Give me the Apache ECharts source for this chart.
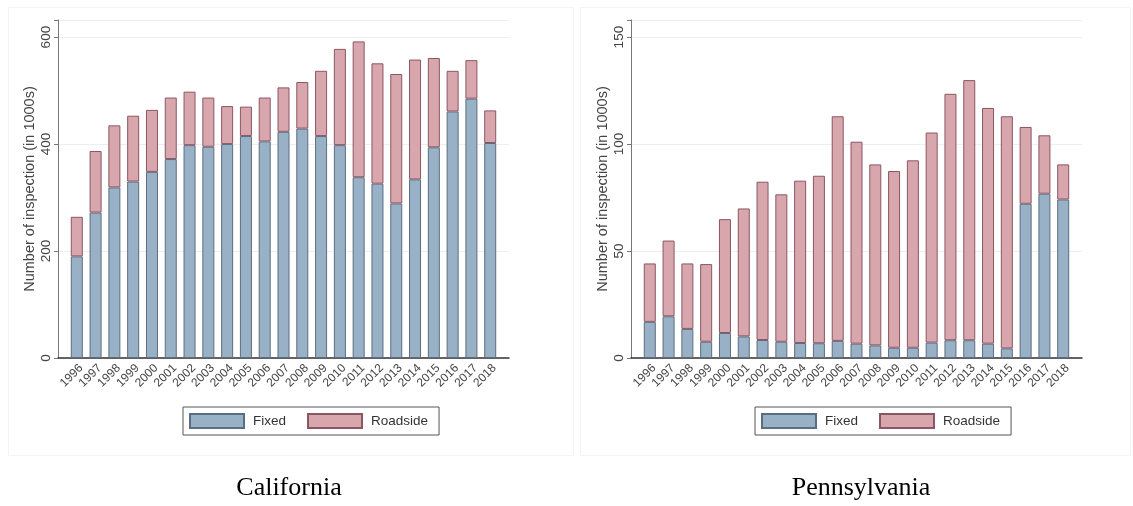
<!DOCTYPE html>
<html>
<head>
<meta charset="utf-8">
<script src="https://cdn.jsdelivr.net/npm/echarts@6/dist/echarts.min.js"></script>
<style>
html,body{margin:0;padding:0;background:#fff;}
#chart{width:1133px;height:506px;}
</style>
</head>
<body>
<div id="chart"></div>
<script>
// ---- data ----
const years = ['1996','1997','1998','1999','2000','2001','2002','2003','2004','2005','2006','2007','2008','2009','2010','2011','2012','2013','2014','2015','2016','2017','2018'];
const caFixed    = [190,272,319,330,348,372,398,395,400,415,405,423,429,415,398,338,326,289,334,394,461,485,402];
const caRoadside = [74,115,116,123,116,115,100,92,71,55,82,83,87,122,180,254,225,242,224,167,76,72,61];
const paFixed    = [16.9,19.5,13.6,7.6,11.7,10.1,8.4,7.6,7.0,6.9,8.0,6.7,5.9,4.8,4.8,7.2,8.3,8.3,6.7,4.5,72.1,76.8,74.1];
const paRoadside = [27.3,35.4,30.6,36.3,53.2,59.8,74.0,68.9,75.9,78.3,105.0,94.4,84.6,82.6,87.6,98.2,115.2,121.6,110.2,108.5,35.9,27.3,16.4];
const caTicks = [0,200,400,600];
const paTicks = [0,50,100,150];
const seriesNames = ['Fixed','Roadside'];
const panelTitles = ['California','Pennsylvania'];

// empty slot at each end of the category axis leaves the outer margin seen in the reference
const cats = [''].concat(years, ['']);
const padded = (vals) => [null].concat(vals, [null]);

const fixedStyle = {color:'#99b1c7', borderColor:'#5b6d80', borderWidth:1};
const roadStyle  = {color:'#d8a7ae', borderColor:'#8d5561', borderWidth:1};

function xAxisCfg(idx){
  return {
    type:'category', gridIndex:idx, data:cats, boundaryGap:false,
    axisLine:{show:true, onZero:false, lineStyle:{color:'#333', width:1.5}},
    axisTick:{show:false},
    splitLine:{show:false},
    axisLabel:{rotate:45, margin:4, interval:0, verticalAlign:'top', fontSize:12, color:'#444', fontFamily:'Liberation Sans'}
  };
}
function yAxisCfg(idx, max, interval, ticks){
  return {
    type:'value', gridIndex:idx, min:0, max:max, interval:interval,
    name:'Number of inspection (in 1000s)', nameLocation:'middle', nameGap:21, nameRotate:90,
    nameTextStyle:{fontSize:14.5, color:'#444', fontFamily:'Liberation Sans'},
    axisLine:{show:true, lineStyle:{color:'#777', width:1}},
    axisTick:{show:true, length:4, lineStyle:{color:'#777'}},
    splitLine:{show:true, lineStyle:{color:'#eeeeee', width:1}},
    axisLabel:{
      rotate:90, margin:5, fontSize:13.5, color:'#444', fontFamily:'Liberation Sans',
      formatter:(v)=> ticks.indexOf(v) >= 0 ? String(v) : ''
    }
  };
}
function legendCfg(left){
  return {
    data: seriesNames.map(n=>({name:n})),
    left:left, top:407, orient:'horizontal',
    itemWidth:54, itemHeight:14, itemGap:21,
    padding:[6,11,6,6],
    borderColor:'#555', borderWidth:1, backgroundColor:'#fff',
    textStyle:{fontSize:13.5, color:'#333', fontFamily:'Liberation Sans', padding:[0,0,0,4]},
    icon:'rect', selectedMode:false
  };
}

const chart = echarts.init(document.getElementById('chart'), null, {renderer:'canvas'});
chart.setOption({
  animation:false,
  backgroundColor:'#fff',
  grid:[
    {left:58, top:20, width:451, bottom:148},
    {left:631, top:20, width:451, bottom:148}
  ],
  xAxis:[xAxisCfg(0), xAxisCfg(1)],
  yAxis:[yAxisCfg(0, 632, 200, caTicks), yAxisCfg(1, 158, 50, paTicks)],
  legend:[legendCfg(183), legendCfg(755)],
  series:[
    {name:seriesNames[0], type:'bar', xAxisIndex:0, yAxisIndex:0, stack:'ca', barWidth:12, itemStyle:fixedStyle, data:padded(caFixed)},
    {name:seriesNames[1], type:'bar', xAxisIndex:0, yAxisIndex:0, stack:'ca', barWidth:12, itemStyle:roadStyle, data:padded(caRoadside)},
    {name:seriesNames[0], type:'bar', xAxisIndex:1, yAxisIndex:1, stack:'pa', barWidth:12, itemStyle:fixedStyle, data:padded(paFixed)},
    {name:seriesNames[1], type:'bar', xAxisIndex:1, yAxisIndex:1, stack:'pa', barWidth:12, itemStyle:roadStyle, data:padded(paRoadside)}
  ],
  graphic:[
    {type:'rect', left:6, top:5, shape:{width:565, height:448}, style:{fill:'none', stroke:'#f4f4f4', lineWidth:1}, z:-1},
    {type:'rect', left:578, top:5, shape:{width:550, height:448}, style:{fill:'none', stroke:'#f4f4f4', lineWidth:1}, z:-1},
    {type:'text', x:289, y:488, style:{text:panelTitles[0], fontSize:26, fontFamily:'Liberation Serif', fill:'#000', textAlign:'center', textVerticalAlign:'middle'}},
    {type:'text', x:861, y:488, style:{text:panelTitles[1], fontSize:26, fontFamily:'Liberation Serif', fill:'#000', textAlign:'center', textVerticalAlign:'middle'}}
  ]
});
</script>
</body>
</html>
